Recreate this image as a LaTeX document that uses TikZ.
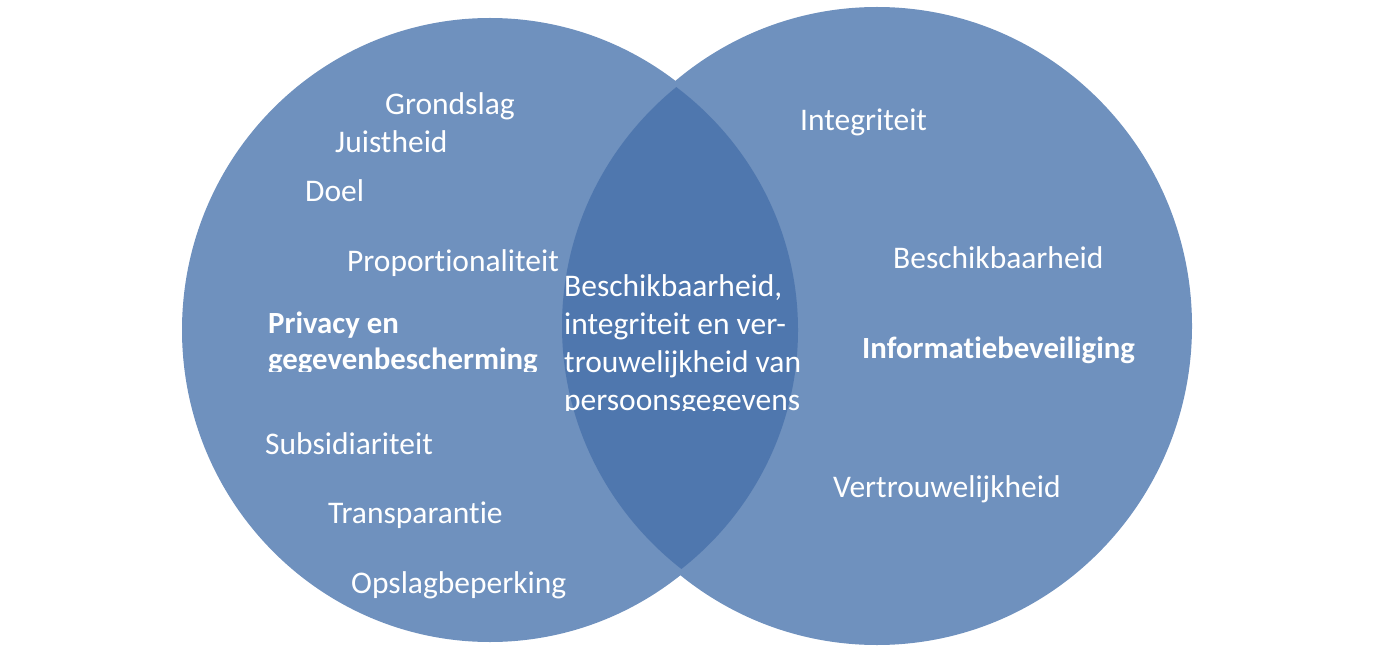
\documentclass[tikz,border=0pt]{standalone}
\usepackage{fontspec}
\setmainfont{Carlito}[Ligatures=NoCommon]
\definecolor{vennblue}{RGB}{111,145,190}
\definecolor{lensblue}{RGB}{79,119,174}
\tikzset{
  lbl/.style={anchor=base west,inner sep=0pt,text=white,font=\fontsize{31.5}{38}\selectfont},
  lblb/.style={lbl,font=\fontsize{30.8}{38}\selectfont\bfseries}
}
\begin{document}
\begin{tikzpicture}[x=1pt,y=-1pt]
  \useasboundingbox (0,0) rectangle (1391,652);
  \fill[vennblue] (490,330) ellipse [x radius=308,y radius=312];
  \fill[vennblue] (877,326) ellipse [x radius=315,y radius=319];
  \begin{scope}
    \clip (490,330) ellipse [x radius=308,y radius=305];
    \fill[lensblue] (877,326) ellipse [x radius=315,y radius=310];
  \end{scope}
  \node[lbl] (grondslag) at (385,115) {Grondslag};
  \node[lbl] (juistheid) at (335,153) {Juistheid};
  \node[lbl] (doel) at (305,202) {Doel};
  \node[lbl] (proportionaliteit) at (347,271) {Proportionaliteit};
  \node[lblb] (privacy) at (268,333) {Privacy en};
  \begin{scope}
    \clip (0,0) rectangle (560,371);
    \node[lblb] (gegeven) at (268,369) {gegevenbescherming};
  \end{scope}
  \node[lbl] (subsidiariteit) at (265,454) {Subsidiariteit};
  \node[lbl] (transparantie) at (328,523) {Transparantie};
  \node[lbl] (opslag) at (351,593) {Opslagbeperking};
  \begin{scope}
    \clip (0,0) rectangle (1391,410);
    \foreach \txt [count=\i] in {Beschikbaarheid{,},integriteit en ver-,trouwelijkheid van,persoonsgegevens}
      \node[lbl] (lens\i) at (564,258+38*\i) {\txt};
  \end{scope}
  \node[lbl] (integriteit) at (800,131) {Integriteit};
  \node[lbl] (beschikbaarheid) at (893,269) {Beschikbaarheid};
  \node[lblb] (infobev) at (862,358) {Informatiebeveiliging};
  \node[lbl] (vertrouwelijkheid) at (833,497) {Vertrouwelijkheid};
\end{tikzpicture}
\end{document}
